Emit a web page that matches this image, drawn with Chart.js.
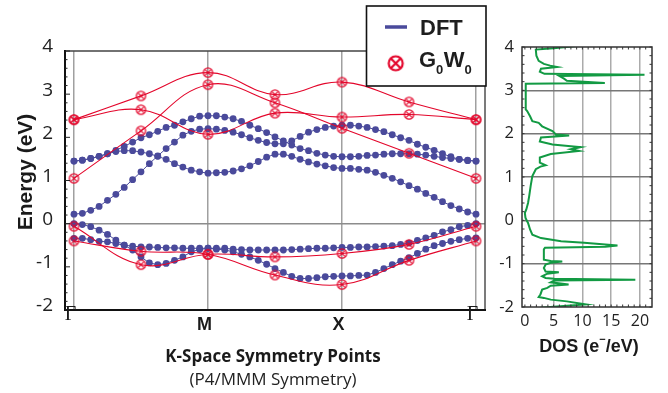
<!DOCTYPE html>
<html><head><meta charset="utf-8">
<script src="https://cdn.jsdelivr.net/npm/chart.js@4.4.0/dist/chart.umd.min.js"></script>
<style>
html,body{margin:0;padding:0;background:#fff;width:668px;height:393px;overflow:hidden}
#band{position:absolute;left:0;top:0}
#dos{position:absolute;left:495px;top:0}
</style></head><body>
<canvas id="band" width="505" height="393"></canvas>
<canvas id="dos" width="173" height="393"></canvas>
<script>
// ---------- data ----------
const kLabels = ['Γ', 'M', 'X', 'Γ'];
const kTickPos = [0, 1, 2, 3];
const pointsPerSegment = 16;
const gwKPoints = [0, 0.5, 1, 1.5, 2, 2.5, 3];

// DFT bands (49 points: Γ→M→X→Γ)
const dftBand1 = [0.22,0.24,0.31,0.40,0.54,0.68,0.84,1.02,1.20,1.39,1.57,1.74,1.89,2.05,2.14,2.19,2.20,
  2.19,2.16,2.12,2.06,1.99,1.93,1.88,1.85,1.85,1.92,2.02,2.12,2.18,2.23,2.26,2.28,
  2.28,2.26,2.23,2.18,2.13,2.06,1.99,1.93,1.84,1.77,1.70,1.62,1.55,1.49,1.46,1.45];
const dftBand2 = [1.45,1.47,1.51,1.56,1.62,1.70,1.79,1.89,1.99,2.06,2.14,2.23,2.28,2.36,2.43,2.49,2.50,
  2.50,2.47,2.43,2.37,2.28,2.20,2.11,2.01,1.92,1.82,1.74,1.69,1.63,1.59,1.56,1.55,
  1.55,1.56,1.58,1.59,1.61,1.62,1.62,1.62,1.61,1.59,1.56,1.53,1.51,1.49,1.47,1.45];
const dftBand3 = [1.45,1.47,1.51,1.56,1.62,1.67,1.69,1.69,1.66,1.62,1.56,1.49,1.39,1.31,1.24,1.20,1.17,
  1.18,1.19,1.22,1.27,1.34,1.44,1.54,1.61,1.61,1.56,1.49,1.43,1.38,1.34,1.30,1.28,
  1.28,1.26,1.24,1.19,1.12,1.05,0.97,0.88,0.80,0.70,0.61,0.51,0.42,0.34,0.27,0.22];
const dftBand4 = [0.00,-0.02,-0.07,-0.15,-0.25,-0.38,-0.50,-0.61,-0.77,-0.91,-0.95,-0.92,-0.85,-0.77,-0.65,-0.60,-0.57,
  -0.57,-0.57,-0.59,-0.60,-0.61,-0.61,-0.61,-0.61,-0.61,-0.60,-0.59,-0.58,-0.57,-0.57,-0.56,-0.55,
  -0.55,-0.54,-0.54,-0.53,-0.52,-0.51,-0.48,-0.45,-0.39,-0.33,-0.27,-0.19,-0.14,-0.07,-0.04,0.00];
const dftBand5 = [-0.34,-0.34,-0.37,-0.41,-0.42,-0.46,-0.50,-0.52,-0.54,-0.54,-0.55,-0.56,-0.56,-0.57,-0.57,-0.57,-0.57,
  -0.59,-0.61,-0.65,-0.71,-0.77,-0.85,-0.94,-1.04,-1.13,-1.22,-1.27,-1.27,-1.25,-1.23,-1.22,-1.21,
  -1.21,-1.20,-1.19,-1.13,-1.04,-0.95,-0.87,-0.79,-0.69,-0.59,-0.51,-0.46,-0.41,-0.37,-0.34,-0.33];

// G0W0 bands (Γ, ½, M, ½, X, ½, Γ)
const gwBand1 = [2.41, 2.96, 3.50, 2.99, 3.28, 2.82, 2.41];
const gwBand2 = [2.41, 2.64, 2.07, 2.56, 2.47, 2.53, 2.41];
const gwBand3 = [1.05, 2.15, 3.22, 2.80, 2.21, 1.63, 1.05];
const gwBand4 = [-0.06, -0.95, -0.71, -0.77, -0.69, -0.48, -0.06];
const gwBand5 = [-0.40, -0.64, -0.71, -1.19, -1.41, -0.85, -0.40];

// DOS
const dosEnergy = [4.06,4.02,3.97,3.94,3.80,3.68,3.61,3.57,3.54,3.50,3.43,3.38,3.36,3.33,3.27,3.22,3.17,3.15,
  2.56,2.52,2.40,2.29,2.25,2.17,2.06,1.98,1.96,1.91,1.82,1.75,1.71,1.69,1.64,1.60,1.53,1.45,1.33,1.27,1.24,1.18,
  1.02,0.79,0.56,0.40,0.25,0.17,0.06,0.00,-0.06,-0.21,-0.33,-0.41,-0.48,-0.52,-0.58,-0.61,-0.63,-0.67,
  -0.91,-0.94,-0.95,-0.98,-1.02,-1.10,-1.18,-1.20,-1.23,-1.29,-1.33,-1.35,-1.37,-1.39,-1.43,-1.48,-1.51,
  -1.56,-1.60,-1.71,-1.77,-1.79,-1.83,-1.87,-1.94,-1.97,-2.02];
const dosValues = [9.6,9.0,5.0,1.9,2.0,2.4,3.3,4.4,5.6,2.8,2.6,3.4,20.8,6.0,6.8,7.3,13.9,0.15,
  0.15,0.4,0.9,1.3,2.4,3.0,4.8,5.4,7.7,2.8,2.6,4.8,8.0,9.7,8.0,9.4,4.5,2.6,2.6,3.6,2.7,1.9,
  1.3,1.0,0.75,0.55,0.25,0.0,0.1,0.3,0.55,0.9,1.3,2.8,6.3,10.3,16.1,14.0,3.5,3.3,
  3.3,4.5,6.5,4.5,3.6,3.3,3.6,5.9,3.9,3.0,3.6,5.1,19.2,5.1,4.5,7.6,4.5,
  3.9,3.0,2.7,2.4,3.3,4.5,7.3,10.6,7.3,2.7];
const dosTicks = [0, 5, 10, 15, 20];

// ---------- styles ----------
const BLUE = '#4a4a9b';
const RED = '#e3062b';
const GREEN = '#129a43';

function makeOtimes(r, color, lw) {
  const size = Math.ceil(2 * r + lw + 2);
  const c = document.createElement('canvas');
  c.width = c.height = size;
  const g = c.getContext('2d');
  const m = size / 2;
  g.strokeStyle = color; g.lineWidth = lw;
  g.beginPath(); g.arc(m, m, r, 0, Math.PI * 2); g.stroke();
  const d = r * 0.68;
  g.beginPath();
  g.moveTo(m - d, m - d); g.lineTo(m + d, m + d);
  g.moveTo(m + d, m - d); g.lineTo(m - d, m + d);
  g.stroke();
  return c;
}
const otimes = makeOtimes(4.6, RED, 1.3);
const otimesBig = makeOtimes(7, RED, 2.2);

const datasets = [];
[gwBand1, gwBand2, gwBand3, gwBand4, gwBand5].forEach(b => datasets.push({
  data: b.map((e, i) => ({ x: gwKPoints[i], y: e })),
  showLine: true, borderColor: RED, borderWidth: 1.1, tension: 0.4,
  pointStyle: otimes, pointRadius: 5, pointHoverRadius: 5,
  backgroundColor: 'rgba(0,0,0,0)'
}));
[dftBand1, dftBand2, dftBand3, dftBand4, dftBand5].forEach(b => datasets.push({
  data: b.map((e, i) => ({ x: i / pointsPerSegment, y: e })),
  showLine: true, borderColor: BLUE, borderWidth: 1, tension: 0,
  pointStyle: 'circle', pointRadius: 3.4, pointHoverRadius: 3.4,
  pointBackgroundColor: BLUE, pointBorderWidth: 0
}));

function minorTicksY(ctx, ys, x, step, minor, major, dir, from, to) {
  for (let v = from; v <= to + 1e-9; v += step) {
    const py = ys.getPixelForValue(v);
    const isMajor = Math.abs(v - Math.round(v)) < 1e-6;
    const len = isMajor ? major : minor;
    ctx.beginPath(); ctx.moveTo(x, py); ctx.lineTo(x + dir * len, py); ctx.stroke();
  }
}

const bandDecor = {
  id: 'bandDecor',
  afterDatasetsDraw(chart) {
    const ctx = chart.ctx, a = chart.chartArea;
    const xs = chart.scales.x, ys = chart.scales.y;
    ctx.save();
    // frame
    ctx.strokeStyle = '#444'; ctx.lineWidth = 1.4;
    ctx.beginPath(); ctx.moveTo(a.left, a.top); ctx.lineTo(a.right, a.top); ctx.lineTo(a.right, a.bottom); ctx.stroke();
    ctx.strokeStyle = '#111'; ctx.lineWidth = 2;
    ctx.beginPath(); ctx.moveTo(a.left, a.top - 1); ctx.lineTo(a.left, a.bottom); ctx.lineTo(a.right + 1, a.bottom); ctx.stroke();
    // inward ticks
    ctx.lineWidth = 1; ctx.strokeStyle = '#222';
    minorTicksY(ctx, ys, a.left, 0.2, 2.5, 5, 1, -2, 4);
    // k-point labels
    ctx.fillStyle = '#1a1a1a'; ctx.textAlign = 'center'; ctx.textBaseline = 'alphabetic';
    kTickPos.forEach((v, i) => {
      const px = xs.getPixelForValue(v) - 3.5;
      if (kLabels[i] === 'Γ') { ctx.font = '20px "Liberation Serif"'; ctx.fillText(kLabels[i], px, 320); }
      else { ctx.font = 'bold 18px "Liberation Sans"'; ctx.fillText(kLabels[i], px, 330); }
    });
    // axis titles
    const cx = (a.left + a.right) / 2 - 2;
    ctx.font = 'bold 17px "Open Sans"'; ctx.fillStyle = '#1a1a1a';
    ctx.fillText('K-Space Symmetry Points', cx, 361.5);
    ctx.font = '17px "Open Sans"'; ctx.fillStyle = '#222';
    ctx.fillText('(P4/MMM Symmetry)', cx, 385);
    ctx.save();
    ctx.translate(31.5, 172); ctx.rotate(-Math.PI / 2);
    ctx.font = 'bold 21px "Liberation Sans"'; ctx.fillStyle = '#1a1a1a';
    ctx.fillText('Energy (eV)', 0, 0);
    ctx.restore();
    ctx.restore();
  },
  afterDraw(chart) {
    const c = chart.ctx;
    c.save();
    c.fillStyle = '#fff'; c.fillRect(366.5, 6, 119.5, 80);
    c.strokeStyle = '#111'; c.lineWidth = 1.6; c.strokeRect(366.5, 6, 119.5, 80);
    c.strokeStyle = BLUE; c.lineWidth = 3.5;
    c.beginPath(); c.moveTo(385, 27); c.lineTo(407, 27); c.stroke();
    c.fillStyle = '#1e1e1e'; c.textAlign = 'left'; c.textBaseline = 'alphabetic';
    c.font = 'bold 22px "Liberation Sans"'; c.fillText('DFT', 420, 35);
    c.drawImage(otimesBig, 395.7 - otimesBig.width / 2, 63.3 - otimesBig.height / 2);
    let x = 419;
    const big = 'bold 22px "Liberation Sans"', small = 'bold 13px "Liberation Sans"';
    [['G', big, 66.5], ['0', small, 74], ['W', big, 66.5], ['0', small, 74]].forEach(([t, f, y]) => {
      c.font = f; c.fillText(t, x, y); x += c.measureText(t).width + (f === small ? 0.5 : 0);
    });
    c.restore();
  }
};

new Chart(document.getElementById('band'), {
  type: 'scatter',
  data: { datasets },
  options: {
    responsive: false, animation: false, devicePixelRatio: 1, events: [],
    layout: { padding: { left: 0, top: 51, right: 20, bottom: 0 } },
    plugins: { legend: { display: false }, tooltip: { enabled: false } },
    scales: {
      x: {
        type: 'linear', min: -0.067, max: 3.067,
        afterBuildTicks: s => { s.ticks = kTickPos.map(v => ({ value: v })); },
        ticks: { display: false },
        grid: { color: '#a0a0a0', lineWidth: 1.5, drawTicks: false },
        border: { display: false },
        afterFit: s => { s.height = 83; }
      },
      y: {
        type: 'linear', min: -2, max: 4,
        ticks: { stepSize: 1, font: { family: 'Open Sans', size: 19 }, color: '#222', padding: 12, labelOffset: -4 },
        grid: { color: c => (c.tick && c.tick.value === 0) ? '#8c8c8c' : 'rgba(0,0,0,0)', lineWidth: 1.5, drawTicks: false },
        border: { display: false },
        afterFit: s => { s.width = 65; }
      }
    }
  },
  plugins: [bandDecor]
});

// ---------- DOS panel ----------
const dosDecor = {
  id: 'dosDecor',
  afterDatasetsDraw(chart) {
    const ctx = chart.ctx, a = chart.chartArea;
    const xs = chart.scales.x, ys = chart.scales.y;
    ctx.save();
    ctx.strokeStyle = '#333'; ctx.lineWidth = 1.5;
    ctx.strokeRect(a.left, a.top, a.right - a.left, a.bottom - a.top);
    ctx.lineWidth = 1; ctx.strokeStyle = '#333';
    minorTicksY(ctx, ys, a.left, 0.2, 2.5, 2.5, 1, -2, 4);
    minorTicksY(ctx, ys, a.right, 0.2, 2.5, 2.5, -1, -2, 4);
    for (let v = 0; v <= 22; v += 1) {
      const px = xs.getPixelForValue(v);
      if (px > a.right - 1) break;
      ctx.beginPath(); ctx.moveTo(px, a.bottom); ctx.lineTo(px, a.bottom - 2.5); ctx.stroke();
      ctx.beginPath(); ctx.moveTo(px, a.top); ctx.lineTo(px, a.top + 2.5); ctx.stroke();
    }
    // title
    ctx.fillStyle = '#1a1a1a'; ctx.textBaseline = 'alphabetic'; ctx.textAlign = 'left';
    const f = 'bold 18px "Liberation Sans"', fs = 'bold 11px "Liberation Sans"';
    const parts = [['DOS (e', f, 351.5], ['−', fs, 343], ['/eV)', f, 351.5]];
    let w = 0;
    parts.forEach(([t, ff]) => { ctx.font = ff; w += ctx.measureText(t).width; });
    let x = 94 - w / 2;
    parts.forEach(([t, ff, y]) => { ctx.font = ff; ctx.fillText(t, x, y); x += ctx.measureText(t).width; });
    ctx.restore();
  }
};

new Chart(document.getElementById('dos'), {
  type: 'scatter',
  data: { datasets: [{
    data: dosEnergy.map((e, i) => ({ x: dosValues[i], y: e })),
    showLine: true, borderColor: GREEN, borderWidth: 2, tension: 0,
    pointRadius: 0, pointHoverRadius: 0
  }] },
  options: {
    responsive: false, animation: false, devicePixelRatio: 1, events: [],
    layout: { padding: { left: 0, top: 47, right: 16, bottom: 0 } },
    plugins: { legend: { display: false }, tooltip: { enabled: false } },
    scales: {
      x: {
        type: 'linear', min: -0.5, max: 22.1,
        afterBuildTicks: s => { s.ticks = dosTicks.map(v => ({ value: v })); },
        ticks: { font: { family: 'Open Sans', size: 16 }, color: '#222', padding: 5, maxRotation: 0, autoSkip: false },
        grid: { color: c => (c.tick && c.tick.value === 0) ? 'rgba(0,0,0,0)' : '#ababab', lineWidth: 1.5, drawTicks: false },
        border: { display: false },
        afterFit: s => { s.height = 86; }
      },
      y: {
        type: 'linear', min: -2, max: 4,
        ticks: { stepSize: 1, font: { family: 'Open Sans', size: 16.5 }, color: '#222', padding: 8 },
        grid: { color: c => (c.tick && (c.tick.value === -2 || c.tick.value === 4)) ? 'rgba(0,0,0,0)' : '#777', lineWidth: 1.5, drawTicks: false },
        border: { display: false },
        afterFit: s => { s.width = 27; }
      }
    }
  },
  plugins: [dosDecor]
});
</script>
</body></html>
